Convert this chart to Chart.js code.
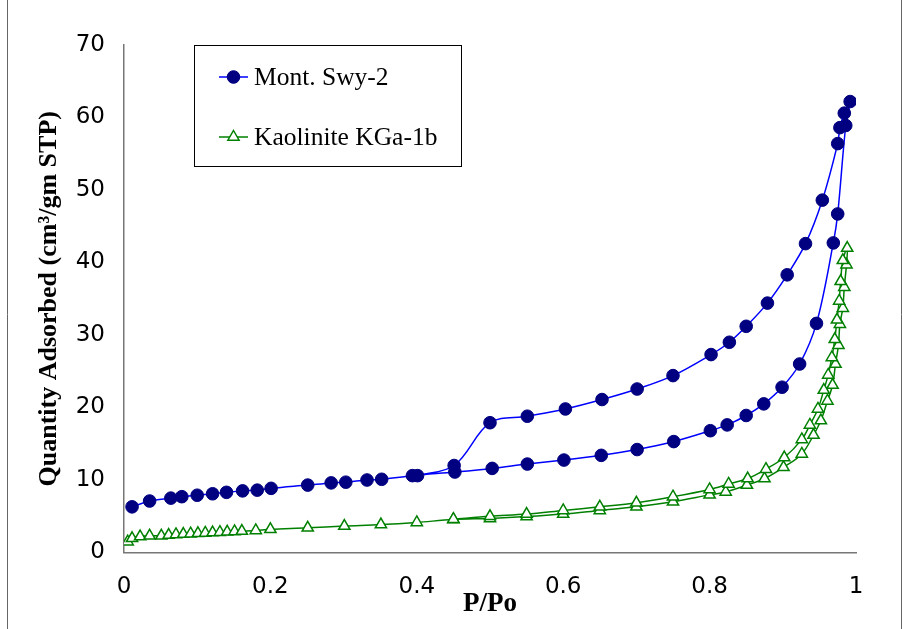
<!DOCTYPE html>
<html>
<head>
<meta charset="utf-8">
<script src="https://cdn.jsdelivr.net/npm/chart.js@4"></script>
<style>
  html, body { margin: 0; padding: 0; background: #fff; }
  #wrap { width: 904px; height: 629px; position: relative; }
</style>
</head>
<body>
<div id="wrap"><canvas id="c" width="904" height="629"></canvas></div>
<script>
// ---- Data ----
const seriesNames = ['Mont. Swy-2', 'Kaolinite KGa-1b'];

// Montmorillonite: adsorption branch then desorption branch
const montAdsX = [0.011,0.035,0.064,0.079,0.100,0.121,0.140,0.162,0.182,0.201,0.251,0.283,0.303,0.332,0.352,0.394,0.452,0.503,0.551,0.601,0.652,0.701,0.751,0.801,0.824,0.850,0.874,0.899,0.923,0.946,0.969,0.975,0.986,0.992];
const montAdsY = [6.3,7.1,7.5,7.7,7.9,8.1,8.3,8.5,8.6,8.85,9.3,9.6,9.7,10.0,10.1,10.6,11.1,11.6,12.2,12.75,13.4,14.2,15.3,16.8,17.6,18.9,20.5,22.8,26.0,31.6,42.7,46.7,58.9,62.2];
const montDesX = [0.984,0.978,0.975,0.954,0.931,0.906,0.879,0.850,0.827,0.802,0.750,0.701,0.653,0.603,0.551,0.500,0.451,0.401];
const montDesY = [60.6,58.6,56.4,48.6,42.6,38.3,34.4,31.2,29.0,27.3,24.4,22.55,21.1,19.8,18.8,17.9,12.0,10.6];

// Kaolinite: adsorption branch then desorption branch
const kaoAdsX = [0.005,0.011,0.022,0.035,0.051,0.061,0.071,0.081,0.091,0.101,0.111,0.121,0.131,0.141,0.151,0.161,0.180,0.200,0.251,0.301,0.351,0.400,0.450,0.500,0.550,0.600,0.650,0.700,0.750,0.800,0.822,0.851,0.875,0.901,0.926,0.942,0.952,0.961,0.968,0.972,0.976,0.978,0.982,0.984,0.987,0.988];
const kaoAdsY = [1.5,1.95,2.2,2.3,2.3,2.4,2.5,2.55,2.6,2.65,2.7,2.75,2.8,2.85,2.9,2.95,3.05,3.2,3.4,3.65,3.85,4.15,4.55,4.7,4.95,5.3,5.8,6.3,7.0,7.95,8.35,9.3,10.2,11.75,13.6,16.2,18.2,20.9,23.1,26.0,28.6,31.5,33.7,36.6,39.7,42.0];
const kaoDesX = [0.982,0.979,0.977,0.974,0.971,0.967,0.962,0.956,0.948,0.937,0.926,0.902,0.877,0.852,0.826,0.800,0.750,0.700,0.650,0.600,0.550,0.500,0.450];
const kaoDesY = [40.3,37.4,34.7,32.1,29.4,26.9,24.5,22.4,19.8,17.6,15.6,13.1,11.5,10.2,9.45,8.7,7.7,6.85,6.3,5.8,5.3,5.0,4.6];

const xTickLabels = ['0','0.2','0.4','0.6','0.8','1'];
const yTickLabels = ['0','10','20','30','40','50','60','70'];
const xTitle = 'P/Po';
const yTitle = 'Quantity Adsorbed (cm\u00B3/gm STP)';

// ---- Build point lists ----
function pts(xs, ys) { return xs.map((x, i) => ({ x: x, y: ys[i] })); }
const montData = pts(montAdsX, montAdsY).concat(pts(montDesX, montDesY));
const kaoData = pts(kaoAdsX, kaoAdsY).concat(pts(kaoDesX, kaoDesY));

// ---- Plugins ----
const frame = {
  id: 'frame',
  beforeDraw(chart) {
    const ctx = chart.ctx;
    ctx.save();
    ctx.fillStyle = '#fff';
    ctx.fillRect(0, 0, chart.width, chart.height);
    ctx.strokeStyle = '#666';
    ctx.lineWidth = 1;
    ctx.beginPath();
    ctx.moveTo(7.5, 0); ctx.lineTo(7.5, chart.height);
    ctx.moveTo(901.5, 0); ctx.lineTo(901.5, chart.height);
    ctx.stroke();
    ctx.restore();
  }
};

function drawMarker(ctx, style, x, y, r, fill, stroke, bw) {
  ctx.beginPath();
  if (style === 'triangle') {
    ctx.moveTo(x, y - r);
    ctx.lineTo(x + r * 0.866, y + r * 0.5);
    ctx.lineTo(x - r * 0.866, y + r * 0.5);
    ctx.closePath();
  } else {
    ctx.arc(x, y, r, 0, Math.PI * 2);
  }
  ctx.fillStyle = fill; ctx.fill();
  ctx.lineWidth = bw; ctx.strokeStyle = stroke; ctx.stroke();
}

const boxLegend = {
  id: 'boxLegend',
  afterDraw(chart) {
    const ctx = chart.ctx;
    const a = chart.chartArea;
    const bx = a.left + 70, by = a.top, bw = 267, bh = 121;
    ctx.save();
    ctx.fillStyle = '#fff';
    ctx.fillRect(bx, by, bw, bh);
    ctx.strokeStyle = '#000';
    ctx.lineWidth = 1;
    ctx.strokeRect(bx + 0.5, by + 0.5, bw, bh);
    ctx.font = '25.5px "Liberation Serif", "Times New Roman", serif';
    ctx.textBaseline = 'middle';
    chart.data.datasets.forEach((ds, i) => {
      const y = by + 32 + i * 60;
      ctx.strokeStyle = ds.borderColor;
      ctx.lineWidth = ds.borderWidth;
      ctx.beginPath();
      ctx.moveTo(bx + 25, y); ctx.lineTo(bx + 54, y);
      ctx.stroke();
      drawMarker(ctx, ds.pointStyle, bx + 39.5, y, ds.pointRadius,
                 ds.pointBackgroundColor, ds.pointBorderColor, ds.pointBorderWidth);
      ctx.fillStyle = '#000';
      ctx.fillText(ds.label, bx + 60, y + 1);
    });
    ctx.restore();
  }
};

const tickFont = { family: '"DejaVu Sans", Verdana, sans-serif', size: 23 };
const titleFont = { family: '"Liberation Serif", "Times New Roman", serif', size: 26, weight: 'bold' };

new Chart(document.getElementById('c'), {
  type: 'scatter',
  data: {
    datasets: [
      {
        label: seriesNames[0],
        data: montData,
        showLine: true,
        tension: 0.35,
        borderColor: '#0000FF',
        borderWidth: 1.5,
        pointStyle: 'circle',
        pointRadius: 6.3,
        pointBackgroundColor: '#000080',
        pointBorderColor: '#000080',
        pointBorderWidth: 1
      },
      {
        label: seriesNames[1],
        data: kaoData,
        showLine: true,
        tension: 0.35,
        borderColor: '#008000',
        borderWidth: 1.5,
        pointStyle: 'triangle',
        pointRadius: 6.5,
        pointBackgroundColor: '#ffffff',
        pointBorderColor: '#008000',
        pointBorderWidth: 1.5
      }
    ]
  },
  options: {
    responsive: false,
    animation: false,
    devicePixelRatio: 1,
    layout: { padding: { top: 45, right: 48, left: 0, bottom: 0 } },
    plugins: {
      legend: { display: false },
      tooltip: { enabled: false }
    },
    scales: {
      x: {
        type: 'linear',
        min: 0, max: 1,
        afterFit(s) { s.height = 76.5; },
        ticks: {
          stepSize: 0.2,
          font: tickFont,
          color: '#000',
          padding: 13,
          maxRotation: 0,
          callback: (v, i) => xTickLabels[i]
        },
        grid: { display: false, drawTicks: true, tickLength: 8, tickColor: '#777' },
        border: { display: true, color: '#777', width: 1.5 },
        title: { display: true, text: xTitle, font: { family: titleFont.family, size: 27, weight: 'bold' }, color: '#000', padding: { top: 0, bottom: 9 } }
      },
      y: {
        type: 'linear',
        min: 0, max: 70,
        afterFit(s) { s.width = 124; },
        ticks: {
          stepSize: 10,
          font: tickFont,
          color: '#000',
          padding: 11,
          callback: (v, i) => yTickLabels[i]
        },
        grid: { display: false, drawTicks: true, tickLength: 8, tickColor: '#777' },
        border: { display: true, color: '#777', width: 1.5 },
        title: { display: true, text: yTitle, font: titleFont, color: '#000', padding: { top: 34, bottom: 0 } }
      }
    }
  },
  plugins: [frame, boxLegend]
});
</script>
</body>
</html>
